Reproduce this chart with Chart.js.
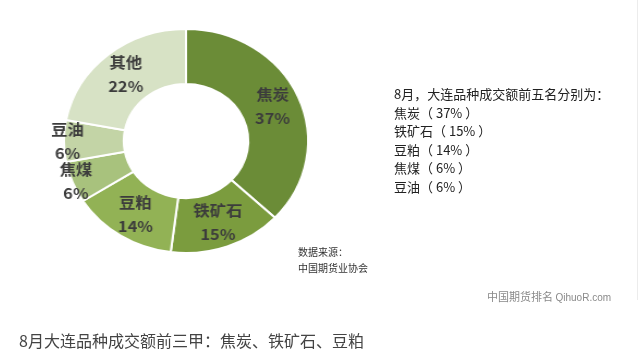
<!DOCTYPE html>
<html>
<head>
<meta charset="utf-8">
<script src="https://cdn.jsdelivr.net/npm/chart.js@4"></script>
<style>
  body { margin: 0; background: #fff; font-family: "Noto Sans CJK SC", sans-serif; }
  #wrap { position: relative; width: 640px; height: 362px; overflow: hidden; }
  #myChart { position: absolute; left: 0; top: 0; transform: scaleX(1.09); transform-origin: 186px 141px; }
  .t { position: absolute; white-space: nowrap; }
  #list { left: 394px; top: 85px; font-size: 13px; line-height: 18.6px; color: #222; }
  #src { left: 298px; top: 244px; font-size: 10px; line-height: 16px; color: #333; }
  #mark { left: 487px; top: 288px; font-size: 11px; color: #8a8a8a; }
  #caption { left: 19px; top: 328px; font-size: 16px; color: #444; }
  #edge { position: absolute; left: 637px; top: 0; width: 1px; height: 300px; background: #ececec; }
</style>
</head>
<body>
<div id="wrap">
  <canvas id="myChart" width="640" height="362"></canvas>
  <div class="t" id="list"></div>
  <div class="t" id="src">数据来源：<br>中国期货业协会</div>
  <div class="t" id="mark">中国期货排名 <span style="font-family:'Liberation Sans';font-size:10px">QihuoR.com</span></div>
  <div class="t" id="caption">8月大连品种成交额前三甲：焦炭、铁矿石、豆粕</div>
  <div id="edge"></div>
</div>
<script>
// 品种和成交额占比
var names = ["焦炭", "铁矿石", "豆粕", "焦煤", "豆油", "其他"];
var shares = [37, 15, 14, 6, 6, 22];
var colors = ["#6b8c37", "#7b9c3e", "#92b255", "#a8c27d", "#c3d4a6", "#d7e2c5"];
var top5 = ["焦炭", "铁矿石", "豆粕", "焦煤", "豆油"];

// 右側文字
var list = document.getElementById("list");
var html = "8月，大连品种成交额前五名分别为：";
for (var i = 0; i < top5.length; i++) {
  html += "<br>" + top5[i] + "（ " + shares[names.indexOf(top5[i])] + "% ）";
}
list.innerHTML = html;

// 扇區內的標籤
var sliceLabels = {
  id: "sliceLabels",
  afterDatasetsDraw: function (chart) {
    var ctx = chart.ctx;
    var arcs = chart.getDatasetMeta(0).data;
    ctx.save();
    ctx.fillStyle = "#3c3c3c";
    ctx.textAlign = "center";
    ctx.textBaseline = "middle";
    ctx.font = "bold 15px 'Noto Sans CJK SC', sans-serif";
    for (var i = 0; i < arcs.length; i++) {
      var a = arcs[i];
      var mid = (a.startAngle + a.endAngle) / 2;
      var r = shares[i] < 10 ? a.outerRadius * 0.97 : (a.innerRadius + a.outerRadius) / 2 + 2;
      var x = a.x + Math.cos(mid) * r;
      var y = a.y + Math.sin(mid) * r;
      ctx.fillText(names[i], x, y - 12);
      ctx.fillText(shares[i] + "%", x, y + 12);
    }
    ctx.restore();
  },
};

var ctx = document.getElementById("myChart").getContext("2d");
var myChart = new Chart(ctx, {
  type: "doughnut",
  data: {
    labels: names,
    datasets: [
      {
        data: shares,
        backgroundColor: colors,
        borderColor: "#ffffff",
        borderWidth: 2,
      },
    ],
  },
  options: {
    responsive: false,
    animation: false,
    cutout: "51%",
    layout: {
      padding: { left: 73, right: 341, top: 28, bottom: 108 },
    },
    plugins: {
      legend: { display: false },
      tooltip: { enabled: false },
    },
  },
  plugins: [sliceLabels],
});
</script>
</body>
</html>
